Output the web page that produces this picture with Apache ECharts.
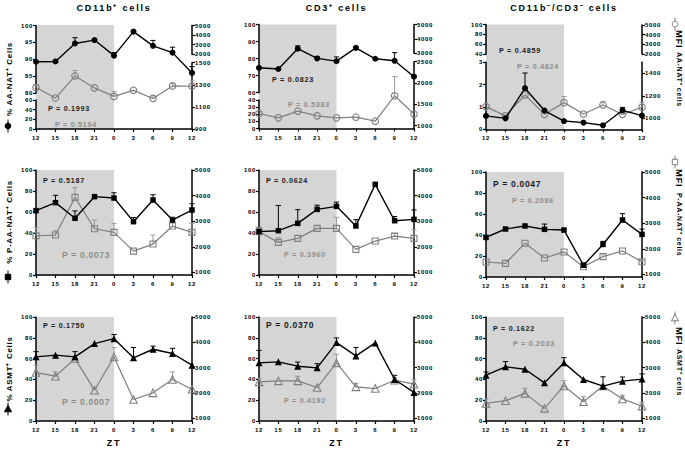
<!DOCTYPE html>
<html><head><meta charset="utf-8">
<script src="https://cdn.jsdelivr.net/npm/echarts@6/dist/echarts.min.js"></script>
<style>
html,body{margin:0;padding:0;background:#fff;}
#c{width:685px;height:451px;}
#c text{letter-spacing:0.7px;}
#c text[style*="ttl"],#c text[font-family*="ttl"]{letter-spacing:1.8px;}
</style></head><body><div id="c"></div>
<script>
// ---------------- DATA ----------------
const zt = ['12','15','18','21','0','3','6','9','12'];
const nightSpan = [0, 4];          // shaded ZT 12 -> ZT 0 (category indices)

// Row 1 : AA-NAT
const cd11bAanatPct    = [89.3, 89.4, 94.7, 95.7, 91.1, 98.2, 94.0, 92.0, 86.0];
const cd11bAanatPctErr = [0, 0, 1.7, 0.3, 0.9, 0, 1.6, 1.6, 1.9];
const cd11bAanatMfi    = [1275, 1180, 1380, 1272, 1195, 1250, 1176, 1290, 1287];
const cd11bAanatMfiErr = [25, 0, 50, 0, 45, 0, 30, 20, 55];
const cd3AanatPct      = [74.6, 73.9, 85.8, 80.1, 78.5, 86.3, 79.9, 78.7, 69.4];
const cd3AanatPctErr   = [0, 0, 1.7, 1.0, 2.5, 0.5, 0, 4.8, 0.5];
const cd3AanatMfi      = [1283, 1180, 1337, 1227, 1180, 1196, 1102, 1699, 1267];
const cd3AanatMfiErr   = [0, 0, 0, 0, 0, 0, 0, 450, 0];
const dnAanatPct       = [0.60, 0.49, 1.84, 0.84, 0.37, 0.30, 0.18, 0.85, 0.61];
const dnAanatPctErr    = [0, 0, 0.68, 0.05, 0, 0, 0, 0.13, 0];
const dnAanatMfi       = [1103, 1020, 1207, 1034, 1139, 1037, 1118, 1034, 1097];
const dnAanatMfiErr    = [0, 0, 0, 0, 55, 0, 30, 0, 45];
// Row 2 : P-AA-NAT
const cd11bPaanatPct    = [61.3, 68.9, 54.0, 74.6, 73.3, 50.8, 71.4, 52.4, 61.9];
const cd11bPaanatPctErr = [0, 7, 7, 0, 5, 4, 5, 0, 6];
const cd11bPaanatMfi    = [2433, 2459, 3932, 2707, 2564, 1834, 2108, 2811, 2564];
const cd11bPaanatMfiErr = [325, 170, 380, 340, 350, 0, 350, 360, 350];
const cd3PaanatPct      = [41.3, 42.2, 49.2, 62.5, 65.4, 46.7, 86.3, 51.7, 53.0];
const cd3PaanatPctErr   = [4, 24, 13, 4, 4, 6, 0, 4, 9];
const cd3PaanatMfi      = [2590, 2173, 2329, 2720, 2720, 1899, 2225, 2420, 2329];
const cd3PaanatMfiErr   = [170, 190, 0, 0, 430, 0, 0, 100, 330];
const dnPaanatPct       = [37.7, 45.7, 48.6, 45.4, 44.7, 11.2, 31.0, 54.3, 40.6];
const dnPaanatPctErr    = [0, 0, 0, 5, 0, 2, 3, 6, 5];
const dnPaanatMfi       = [1485, 1433, 2220, 1643, 1879, 1302, 1695, 1918, 1498];
const dnPaanatMfiErr    = [0, 0, 0, 0, 0, 80, 120, 0, 60];
// Row 3 : ASMT
const cd11bAsmtPct    = [61.7, 63.3, 61.7, 74.4, 79.2, 60.7, 69.0, 64.9, 53.7];
const cd11bAsmtPctErr = [5, 0, 5, 0, 4, 10, 3, 5, 0];
const cd11bAsmtMfi    = [2810, 2666, 3361, 2115, 3426, 1748, 2010, 2534, 2154];
const cd11bAsmtMfiErr = [290, 170, 0, 90, 370, 0, 0, 300, 0];
const cd3AsmtPct      = [55.9, 56.9, 52.7, 51.1, 75.4, 62.6, 75.1, 39.9, 27.5];
const cd3AsmtPctErr   = [12, 0, 4, 4, 4.5, 8, 0, 4, 0];
const cd3AsmtMfi      = [2443, 2482, 2482, 2220, 3190, 2246, 2180, 2508, 2351];
const cd3AsmtMfiErr   = [130, 0, 180, 0, 340, 130, 0, 100, 180];
const dnAsmtPct       = [44.1, 52.1, 49.8, 36.7, 55.9, 39.9, 33.5, 38.3, 40.3];
const dnAsmtPctErr    = [3, 5, 0, 0, 5, 0, 9, 4, 5];
const dnAsmtMfi       = [1594, 1700, 1990, 1396, 2281, 1660, 2281, 1766, 1488];
const dnAsmtMfiErr    = [170, 0, 200, 0, 210, 200, 0, 130, 145];

// P values (black = % cells, grey = MFI)
const pBlack = ['0.1993','0.0823','0.4859','0.5187','0.0624','0.0047','0.1750','0.0370','0.1622'];
const pGrey  = ['0.5194','0.5383','0.4824','0.0073','0.3960','0.2086','0.0007','0.4192','0.2033'];
const pBlackSig = [false,false,false,false,false,true,false,true,false];
const pGreySig  = [false,false,false,true,false,false,true,false,false];

// text
const colTitles = ['CD11b⁺ cells', 'CD3⁺ cells', 'CD11b⁻/CD3⁻ cells'];
const pctNames = ['% AA-NAT⁺ Cells', '% P-AA-NAT⁺ Cells', '% ASMT⁺ Cells'];
const mfiLead = 'MFI';
const mfiNames = ['AA-NAT⁺ cells', 'P-AA-NAT⁺ cells', 'ASMT⁺ cells'];
const xName = 'ZT';

// tick labels
const pctTicksFull = [0, 20, 40, 60, 80, 100];
const mfiTicksFull = [1000, 2000, 3000, 4000, 5000];
const c1LeftUp = [80, 85, 90, 95, 100], c1LeftLow = [0, 20, 40, 60];
const c1RightUp = [2000, 3000, 4000, 5000], c1RightLow = [900, 1100, 1300, 1500];
const c2LeftUp = [60, 70, 80, 90, 100], c2LeftLow = [0, 10, 20, 30, 40];
const c2RightUp = [3000, 4000, 5000], c2RightLow = [1000, 1500, 2000, 2500];
const c3LeftUp = [40, 60, 80, 100], c3LeftLow = [0, 1, 2, 3];
const c3RightUp = [2000, 3000, 4000, 5000], c3RightLow = [1000, 1200, 1400];

const pctData = [[cd11bAanatPct, cd3AanatPct, dnAanatPct],[cd11bPaanatPct, cd3PaanatPct, dnPaanatPct],[cd11bAsmtPct, cd3AsmtPct, dnAsmtPct]];
const pctErr  = [[cd11bAanatPctErr, cd3AanatPctErr, dnAanatPctErr],[cd11bPaanatPctErr, cd3PaanatPctErr, dnPaanatPctErr],[cd11bAsmtPctErr, cd3AsmtPctErr, dnAsmtPctErr]];
const mfiData = [[cd11bAanatMfi, cd3AanatMfi, dnAanatMfi],[cd11bPaanatMfi, cd3PaanatMfi, dnPaanatMfi],[cd11bAsmtMfi, cd3AsmtMfi, dnAsmtMfi]];
const mfiErr  = [[cd11bAanatMfiErr, cd3AanatMfiErr, dnAanatMfiErr],[cd11bPaanatMfiErr, cd3PaanatMfiErr, dnPaanatMfiErr],[cd11bAsmtMfiErr, cd3AsmtMfiErr, dnAsmtMfiErr]];

// ---------------- LAYOUT ----------------
const FONT = "'Liberation Sans', Arial, sans-serif";
const TFONT = "'Liberation Sans', ttl, Arial, sans-serif";
const BLACK = '#000', GREY = '#7f7f7f', GREYERR = '#9a9a9a', SHADE = '#d5d5d5';
const symbols = ['circle', 'rect', 'triangle'];
const symSize = [6, 5.5, 7];

const COLX = [[36, 192], [259, 414], [486, 642]];
const geom = [
  [
    {top:25, bot:129,
     L:[{min:80,max:100,ticks:c1LeftUp,top:25.5,bot:93.3,host:true},{min:0,max:60,ticks:c1LeftLow,top:100,bot:129}],
     R:[{min:2000,max:5000,ticks:c1RightUp,top:25.5,bot:54.3},{min:900,max:1500,ticks:c1RightLow,top:62.7,bot:129,host:true}]},
    {top:24.5, bot:128.5,
     L:[{min:60,max:100,ticks:c2LeftUp,top:24.5,bot:92.7,host:true},{min:0,max:40,ticks:c2LeftLow,top:100,bot:128.5}],
     R:[{min:3000,max:5000,ticks:c2RightUp,top:24.5,bot:53.3},{min:930,max:2500,ticks:c2RightLow,top:61.7,bot:128.5,host:true}]},
    {top:24.5, bot:129.3,
     L:[{min:40,max:100,ticks:c3LeftUp,top:24.5,bot:54.3},{min:0,max:3,ticks:c3LeftLow,top:62.3,bot:129.3,host:true}],
     R:[{min:2000,max:5000,ticks:c3RightUp,top:25,bot:54},{min:900,max:1500,ticks:c3RightLow,top:62.3,bot:129.3,host:true}]}
  ],
  [ {top:170,bot:275}, {top:170,bot:275}, {top:172,bot:277} ],
  [ {top:317,bot:421}, {top:317,bot:421}, {top:317,bot:421} ]
];
for (let r = 1; r < 3; r++) for (let c = 0; c < 3; c++) {
  const g = geom[r][c];
  g.L = [{min:0,max:100,ticks:pctTicksFull,top:g.top,bot:g.bot,host:true}];
  g.R = [{min:900,max:5000,ticks:mfiTicksFull,top:g.top,bot:g.bot,host:true}];
}

const pPos = [
  [[48,108,55,124],[272,79,288,104],[499,50,517,66]],
  [[43,180,62,255],[266,180,284,254],[493,184,512,200]],
  [[43,325,62,402],[266,325,284,400],[493,328,513,343]]
];

// ---------------- BUILD ----------------
const option = {animation:false, backgroundColor:'#fff', grid:[], xAxis:[], yAxis:[], series:[], graphic:[]};
const axLine = {color:BLACK, width:1.5};
const tickLine = {color:BLACK, width:1.2};
const lblBase = {fontSize:6, fontWeight:'bold', fontFamily:FONT, color:BLACK};

function addGrid(l, t, w, h) {
  option.grid.push({left:l, top:t, width:w, height:h, containLabel:false, outerBoundsMode:'none', show:false});
  return option.grid.length - 1;
}
function addX(gi, show) {
  option.xAxis.push({type:'category', gridIndex:gi, data:zt, boundaryGap:false, show:show, position:'bottom', z:3,
    axisLine:{show:true, onZero:false, lineStyle:axLine},
    axisTick:{show:true, length:3, interval:0, lineStyle:tickLine},
    axisLabel:Object.assign({show:true, interval:0, margin:6}, lblBase),
    splitLine:{show:false}});
  return option.xAxis.length - 1;
}
function addY(gi, seg, pos, show) {
  option.yAxis.push({type:'value', gridIndex:gi, min:seg.min, max:seg.max, position:pos, show:show, z:3,
    axisLine:{show:true, onZero:false, lineStyle:axLine},
    axisTick:{show:true, length:3, customValues:seg.ticks, lineStyle:tickLine},
    axisLabel:Object.assign({show:true, margin:3, customValues:seg.ticks, formatter:(v)=>String(v)}, lblBase),
    splitLine:{show:false}});
  return option.yAxis.length - 1;
}
function errSeries(xi, yi, vals, errs, color, z) {
  return {type:'custom', xAxisIndex:xi, yAxisIndex:yi, z:z, silent:true,
    data: vals.map((v, i) => [i, v, errs[i]]),
    renderItem: (params, api) => {
      const e = api.value(2);
      if (!e) return null;
      const p0 = api.coord([api.value(0), api.value(1)]);
      const p1 = api.coord([api.value(0), api.value(1) + e]);
      return {type:'group', children:[
        {type:'line', shape:{x1:p0[0], y1:p0[1], x2:p1[0], y2:p1[1]}, style:{stroke:color, lineWidth:1}},
        {type:'line', shape:{x1:p1[0]-2.6, y1:p1[1], x2:p1[0]+2.6, y2:p1[1]}, style:{stroke:color, lineWidth:1}}
      ]};
    }};
}

for (let r = 0; r < 3; r++) {
  for (let c = 0; c < 3; c++) {
    const g = geom[r][c];
    const x0 = COLX[c][0], w = COLX[c][1] - COLX[c][0];
    const fg = addGrid(x0, g.top, w, g.bot - g.top);
    const fx = addX(fg, true);
    option.yAxis.push({type:'value', gridIndex:fg, min:0, max:1, show:false});
    const fy = option.yAxis.length - 1;
    option.series.push({type:'custom', xAxisIndex:fx, yAxisIndex:fy, z:1, silent:true,
      data:[[nightSpan[0], nightSpan[1]]],
      renderItem:(params, api) => {
        const a = api.coord([api.value(0), 0]);
        const b = api.coord([api.value(1), 0]);
        const cs = params.coordSys;
        return {type:'rect', shape:{x:a[0], y:cs.y, width:b[0]-a[0], height:cs.height}, style:{fill:SHADE}};
      }});
    g.L.forEach(seg => {
      const gi = addGrid(x0, seg.top, w, seg.bot - seg.top);
      const xi = addX(gi, false);
      const yi = addY(gi, seg, 'left', true);
      if (seg.host) {
        option.series.push(errSeries(xi, yi, pctData[r][c], pctErr[r][c], BLACK, 4));
        option.series.push({type:'line', xAxisIndex:xi, yAxisIndex:yi, z:7, silent:true, clip:false,
          data:pctData[r][c], symbol:symbols[r], symbolSize:symSize[r], showSymbol:true,
          lineStyle:{color:BLACK, width:1.4}, itemStyle:{color:BLACK}});
      }
    });
    g.R.forEach(seg => {
      const gi = addGrid(x0, seg.top, w, seg.bot - seg.top);
      const xi = addX(gi, false);
      const yi = addY(gi, seg, 'right', true);
      if (seg.host) {
        option.series.push(errSeries(xi, yi, mfiData[r][c], mfiErr[r][c], GREYERR, 4));
        option.series.push({type:'line', xAxisIndex:xi, yAxisIndex:yi, z:6, silent:true, clip:false,
          data:mfiData[r][c], symbol:symbols[r], symbolSize:symSize[r] + 0.5, showSymbol:true,
          lineStyle:{color:GREY, width:1.2},
          itemStyle:{color:'rgba(255,255,255,0)', borderColor:GREY, borderWidth:1.1}});
      }
    });
    const k = r * 3 + c, pp = pPos[r][c];
    option.graphic.push({type:'text', x:pp[0], y:pp[1], z:10, silent:true,
      style:{text:'P = ' + pBlack[k], font:'bold ' + (pBlackSig[k] ? 8.5 : 7.2) + 'px ' + FONT, fill:'#1a1a1a',
        verticalAlign:'middle', textVerticalAlign:'middle'}});
    option.graphic.push({type:'text', x:pp[2], y:pp[3], z:10, silent:true,
      style:{text:'P = ' + pGrey[k], font:'bold ' + (pGreySig[k] ? 8.5 : 7.2) + 'px ' + FONT, fill:'#8c8c8c',
        verticalAlign:'middle', textVerticalAlign:'middle'}});
  }
}

const colCenters = COLX.map(a => (a[0] + a[1]) / 2);
colTitles.forEach((t, c) => {
  option.graphic.push({type:'text', x:colCenters[c], y:8, silent:true,
    style:{text:t, font:'bold 9px ' + TFONT, fill:BLACK, align:'center', textAlign:'center', verticalAlign:'middle', textVerticalAlign:'middle'}});
  option.graphic.push({type:'text', x:colCenters[c], y:443, silent:true,
    style:{text:xName, font:'bold 9px ' + TFONT, fill:BLACK, align:'center', textAlign:'center', verticalAlign:'middle', textVerticalAlign:'middle'}});
});

const leftNameY = [79, 222, 369], leftSymY = [126, 277, 409];
const rightLeadY = [30, 169, 327], rightNameY = [52, 193, 349], rightSymY = [24, 162, 318];
function symGraphic(kind, x, y, filled) {
  const fill = filled ? BLACK : '#fff', stroke = filled ? BLACK : GREY;
  const out = [{type:'line', silent:true, shape:{x1:x, y1:y-6.5, x2:x, y2:y+6.5}, style:{stroke:stroke, lineWidth:1}}];
  if (kind === 0) out.push({type:'circle', silent:true, shape:{cx:x, cy:y, r:2.9}, style:{fill:fill, stroke:stroke, lineWidth:1}});
  if (kind === 1) out.push({type:'rect', silent:true, shape:{x:x-2.7, y:y-2.7, width:5.4, height:5.4}, style:{fill:fill, stroke:stroke, lineWidth:1}});
  if (kind === 2) out.push({type:'polygon', silent:true, shape:{points:[[x, y-3.6],[x+3.6, y+2.8],[x-3.6, y+2.8]]}, style:{fill:fill, stroke:stroke, lineWidth:1}});
  return out;
}
for (let r = 0; r < 3; r++) {
  option.graphic.push({type:'text', x:9, y:leftNameY[r], rotation:Math.PI/2, silent:true,
    style:{text:pctNames[r], font:'bold 8px ' + FONT, fill:BLACK, align:'center', textAlign:'center', verticalAlign:'middle', textVerticalAlign:'middle'}});
  symGraphic(r, 8, leftSymY[r], true).forEach(e => option.graphic.push(e));
  option.graphic.push({type:'text', x:679, y:rightLeadY[r], rotation:-Math.PI/2, silent:true,
    style:{text:mfiLead, font:'bold 9.5px ' + FONT, fill:BLACK, align:'left', textAlign:'left', verticalAlign:'middle', textVerticalAlign:'middle'}});
  option.graphic.push({type:'text', x:679, y:rightNameY[r], rotation:-Math.PI/2, silent:true,
    style:{text:mfiNames[r], font:'bold 7px ' + FONT, fill:BLACK, align:'left', textAlign:'left', verticalAlign:'middle', textVerticalAlign:'middle'}});
  symGraphic(r, 675, rightSymY[r], false).forEach(e => option.graphic.push(e));
}

const chart = echarts.init(document.getElementById('c'), null, {renderer:'svg', width:685, height:451});
chart.setOption(option);
</script></body></html>
